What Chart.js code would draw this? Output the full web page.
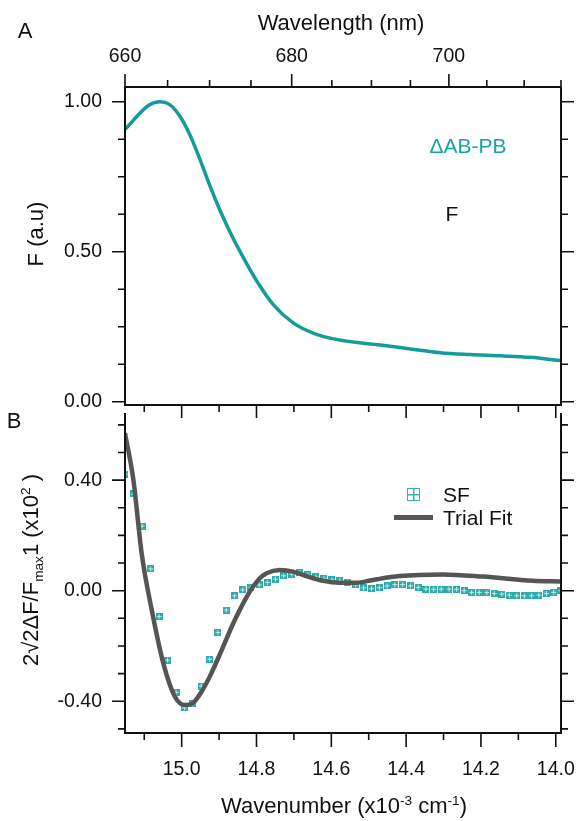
<!DOCTYPE html>
<html lang="en">
<head>
<meta charset="UTF-8">
<title>Fluorescence and Stark fluorescence spectra</title>
<script src="https://cdn.jsdelivr.net/npm/chart.js"></script>
<style>
  body { margin: 0; background: #fff; font-family: "Liberation Sans", Arial, sans-serif; }
  #wrap { position: relative; width: 581px; height: 821px; overflow: hidden; }
  canvas { position: absolute; left: 0; }
  #chartA { top: 0; }
  #chartB { top: 408px; }
  .lbl { position: absolute; color: #111; font-size: 22px; line-height: 1; white-space: nowrap; transform: translate(-50%, -50%); }
  .left { transform: translate(0, -50%); }
  .rot { transform: translate(-50%, -50%) rotate(-90deg); }
  sub, sup { font-size: 0.62em; line-height: 0; }
  .teal { color: #1ba2a2; }
  #sfKey {
    position: absolute; left: 407px; top: 488px; width: 11px; height: 11px;
    border: 1.5px solid #3ab3b3;
    background:
      linear-gradient(#3ab3b3, #3ab3b3) center / 100% 1.5px no-repeat,
      linear-gradient(#3ab3b3, #3ab3b3) center / 1.5px 100% no-repeat;
  }
  #fitKey { position: absolute; left: 394px; top: 515px; width: 39px; height: 4.5px; background: #555; }
</style>
</head>
<body>
<div id="wrap">
  <canvas id="chartA" width="581" height="430"></canvas>
  <canvas id="chartB" width="581" height="413"></canvas>

  <div class="lbl" style="left:25px; top:31px;">A</div>
  <div class="lbl" style="left:14px; top:421px;">B</div>
  <div class="lbl" style="left:341px; top:23px;">Wavelength (nm)</div>
  <div class="lbl rot" style="left:36px; top:234px;">F (a.u)</div>
  <div class="lbl teal" style="left:468px; top:145px; font-size:21px;">&Delta;AB-PB</div>
  <div class="lbl" style="left:452px; top:213px; font-size:21px;">F</div>
  <div class="lbl rot" style="left:31px; top:570px;">2&radic;2&Delta;F/F<sub>max</sub>1 (x10<sup>2</sup> )</div>
  <div class="lbl" style="left:344px; top:806px;">Wavenumber (x10<sup>-3</sup> cm<sup>-1</sup>)</div>

  <div id="sfKey"></div>
  <div class="lbl left" style="left:443px; top:494px; font-size:21px;">SF</div>
  <div id="fitKey"></div>
  <div class="lbl left" style="left:443px; top:517px; font-size:21px;">Trial Fit</div>
</div>

<script>
// x axis range (x10^3 cm-1), 660 nm .. 715 nm
const xMax = 15.1515;
const xMin = 13.986;

// tick labels
const wavelengthTicks = [660, 680, 700];
const wavenumberTicks = [15.0, 14.8, 14.6, 14.4, 14.2, 14.0];
const fTicks = [0, 0.5, 1.0];
const sfTicks = [-0.4, 0, 0.4];

// panel A: fluorescence
const fluorWavenumber = [15.1515, 15.087, 15.058, 15.034, 15.007, 14.980, 14.954, 14.927, 14.900, 14.869, 14.834, 14.798,
  14.754, 14.700, 14.647, 14.580, 14.469, 14.389, 14.309, 14.229, 14.149, 14.069, 13.986];
const fluorF = [0.908, 0.989, 1.000, 0.992, 0.956, 0.895, 0.817, 0.728, 0.645, 0.561, 0.478, 0.400,
  0.322, 0.261, 0.228, 0.206, 0.189, 0.176, 0.163, 0.157, 0.153, 0.148, 0.137];

// panel B: Stark fluorescence (one point per nm)
const sfWavelength = [660, 661, 662, 663, 664, 665, 666, 667, 668, 669,
  670, 671, 672, 673, 674, 675, 676, 677, 678, 679,
  680, 681, 682, 683, 684, 685, 686, 687, 688, 689,
  690, 691, 692, 693, 694, 695, 696, 697, 698, 699,
  700, 701, 702, 703, 704, 705, 706, 707, 708, 709,
  710, 711, 712, 713, 714, 715];
const sfValue = [0.422, 0.350, 0.234, 0.079, -0.094, -0.251, -0.368, -0.424, -0.410, -0.345,
  -0.248, -0.151, -0.070, -0.019, 0.003, 0.012, 0.021, 0.030, 0.042, 0.054,
  0.060, 0.065, 0.057, 0.050, 0.044, 0.039, 0.036, 0.031, 0.021, 0.010,
  0.007, 0.011, 0.017, 0.022, 0.022, 0.017, 0.012, 0.006, 0.005, 0.006,
  0.006, 0.005, 0.000, -0.006, -0.006, -0.007, -0.010, -0.012, -0.016, -0.018,
  -0.019, -0.018, -0.016, -0.010, -0.006, 0.000];

// trial fit
const fitWavenumber = [15.1515, 15.129, 15.107, 15.080, 15.049, 15.018, 14.991, 14.971, 14.947, 14.925, 14.893, 14.862,
  14.831, 14.809, 14.791, 14.773, 14.738, 14.702, 14.667, 14.622, 14.578, 14.533, 14.489, 14.418, 14.302,
  14.195, 14.062, 13.986];
const fitValue = [0.57, 0.40, 0.135, -0.07, -0.263, -0.384, -0.414, -0.408, -0.366, -0.311, -0.215, -0.118,
  -0.034, 0.015, 0.045, 0.063, 0.075, 0.069, 0.053, 0.036, 0.029, 0.029, 0.039, 0.053, 0.059,
  0.051, 0.036, 0.033];

const teal = '#149b9b';
const ink = '#111';
const tickFont = { family: '"Liberation Sans", Arial, sans-serif', size: 19.5 };

// major/minor tick marks, [value, length]
function tickSet(majors, from, to, step, majorLen, minorLen) {
  const out = [];
  const n = Math.round((to - from) / step);
  for (let i = 0; i <= n; i++) {
    const v = from + i * step;
    const isMajor = majors.some(m => Math.abs(m - v) < step / 10);
    out.push([v, isMajor ? majorLen : minorLen]);
  }
  return out;
}

// fixed axis sizes, no extra room for label overhang
function fixSize(size) {
  return s => {
    if (s.isHorizontal()) s.height = size; else s.width = size;
    s.paddingTop = s.paddingBottom = s.paddingLeft = s.paddingRight = 0;
  };
}

// Igor style frame: axis lines with outward ticks
const axisFrame = {
  id: 'axisFrame',
  afterDraw(chart, args, o) {
    const { ctx, chartArea: a, scales } = chart;
    const xs = scales.x, ys = scales.y;
    ctx.save();
    ctx.strokeStyle = ink;
    ctx.lineWidth = 2;
    ctx.beginPath();
    if (o.topLine) { ctx.moveTo(a.left, a.top); ctx.lineTo(a.right, a.top); }
    ctx.moveTo(a.left, a.top); ctx.lineTo(a.left, a.bottom);
    ctx.lineTo(a.right, a.bottom); ctx.lineTo(a.right, a.top);
    ctx.stroke();
    ctx.lineWidth = 1.6;
    ctx.beginPath();
    const mark = (x1, y1, x2, y2) => { ctx.moveTo(x1, y1); ctx.lineTo(x2, y2); };
    o.yTicks.forEach(([v, len]) => {
      const p = ys.getPixelForValue(v);
      mark(a.left - len, p, a.left, p);
      mark(a.right, p, a.right + len, p);
    });
    o.bottomTicks.forEach(([v, len]) => {
      const p = xs.getPixelForValue(v);
      mark(p, a.bottom, p, a.bottom + len);
    });
    (o.topTicks || []).forEach(([v, len]) => {
      const p = xs.getPixelForValue(v);
      mark(p, a.top - len, p, a.top);
    });
    ctx.stroke();
    ctx.restore();
  }
};

const hidden = { display: false, drawTicks: false };

// panel A
new Chart(document.getElementById('chartA'), {
  type: 'line',
  data: {
    datasets: [{
      data: fluorWavenumber.map((w, i) => ({ x: w, y: fluorF[i] })),
      borderColor: teal,
      borderWidth: 3.5,
      pointRadius: 0,
      cubicInterpolationMode: 'monotone',
      fill: false
    }]
  },
  options: {
    responsive: false,
    animation: false,
    devicePixelRatio: 1,
    layout: { padding: { top: 0, bottom: 25, left: 0, right: 0 } },
    plugins: {
      legend: { display: false },
      tooltip: { enabled: false },
      axisFrame: {
        topLine: true,
        yTicks: tickSet(fTicks, 0, 1, 0.125, 13, 7),
        bottomTicks: tickSet(wavenumberTicks, 14.0, 15.1, 0.1, 13, 7),
        topTicks: tickSet(wavelengthTicks, 660, 715, 5, 13, 7).map(([l, len]) => [1e4 / l, len])
      }
    },
    scales: {
      x: { type: 'linear', reverse: true, min: xMin, max: xMax, display: false },
      xTop: {
        type: 'linear', axis: 'x', position: 'top', reverse: true, min: xMin, max: xMax,
        grid: hidden, border: { display: false },
        ticks: { font: tickFont, color: ink, padding: 19, maxRotation: 0, autoSkip: false,
          callback: v => Math.round(1e4 / v) },
        afterBuildTicks: s => { s.ticks = wavelengthTicks.map(l => ({ value: 1e4 / l })); },
        afterFit: fixSize(87)
      },
      y: {
        min: -0.011, max: 1.049,
        grid: hidden, border: { display: false },
        ticks: { font: tickFont, color: ink, padding: 23, callback: v => v.toFixed(2) },
        afterBuildTicks: s => { s.ticks = fTicks.map(v => ({ value: v })); },
        afterFit: fixSize(125)
      },
      y2: {
        position: 'right', min: -0.011, max: 1.049,
        grid: hidden, border: { display: false }, ticks: { display: false },
        afterFit: fixSize(581 - 561)
      }
    }
  },
  plugins: [axisFrame]
});

// scatter marker: small square with a light cross
function makeMarker(size, color, inner) {
  const c = document.createElement('canvas');
  c.width = c.height = size;
  const g = c.getContext('2d');
  g.fillStyle = color;
  g.fillRect(0, 0, size, size);
  g.fillStyle = inner;
  const m = Math.floor(size / 2);
  g.fillRect(1, m, size - 2, 1);
  g.fillRect(m, 1, 1, size - 2);
  return c;
}
const sfMarker = makeMarker(7, '#2fa9a9', 'rgba(205,240,240,0.9)');

// panel B
new Chart(document.getElementById('chartB'), {
  type: 'line',
  data: {
    datasets: [{
      label: 'Trial Fit',
      data: fitWavenumber.map((w, i) => ({ x: w, y: fitValue[i] })),
      borderColor: '#555555',
      borderWidth: 4.5,
      pointRadius: 0,
      cubicInterpolationMode: 'monotone',
      fill: false
    }, {
      label: 'SF',
      data: sfWavelength.map((l, i) => ({ x: 1e4 / l, y: sfValue[i] })),
      showLine: false,
      pointStyle: sfMarker,
      pointRadius: 3
    }]
  },
  options: {
    responsive: false,
    animation: false,
    devicePixelRatio: 1,
    layout: { padding: { top: 5, bottom: 0, left: 0, right: 0 } },
    plugins: {
      legend: { display: false },
      tooltip: { enabled: false },
      axisFrame: {
        topLine: false,
        yTicks: tickSet(sfTicks, -0.5, 0.6, 0.1, 13, 7),
        bottomTicks: tickSet(wavenumberTicks, 14.0, 15.1, 0.1, 14, 7)
      }
    },
    scales: {
      x: {
        type: 'linear', reverse: true, min: xMin, max: xMax,
        grid: hidden, border: { display: false },
        ticks: { font: tickFont, color: ink, padding: 25, maxRotation: 0, autoSkip: false,
          callback: v => v.toFixed(1) },
        afterBuildTicks: s => { s.ticks = wavenumberTicks.map(v => ({ value: v })); },
        afterFit: fixSize(88)
      },
      y: {
        min: -0.515, max: 0.643,
        grid: hidden, border: { display: false },
        ticks: { font: tickFont, color: ink, padding: 23, callback: v => v.toFixed(2) },
        afterBuildTicks: s => { s.ticks = sfTicks.map(v => ({ value: v })); },
        afterFit: fixSize(125)
      },
      y2: {
        position: 'right', min: -0.515, max: 0.643,
        grid: hidden, border: { display: false }, ticks: { display: false },
        afterFit: fixSize(581 - 561)
      }
    }
  },
  plugins: [axisFrame]
});
</script>
</body>
</html>
